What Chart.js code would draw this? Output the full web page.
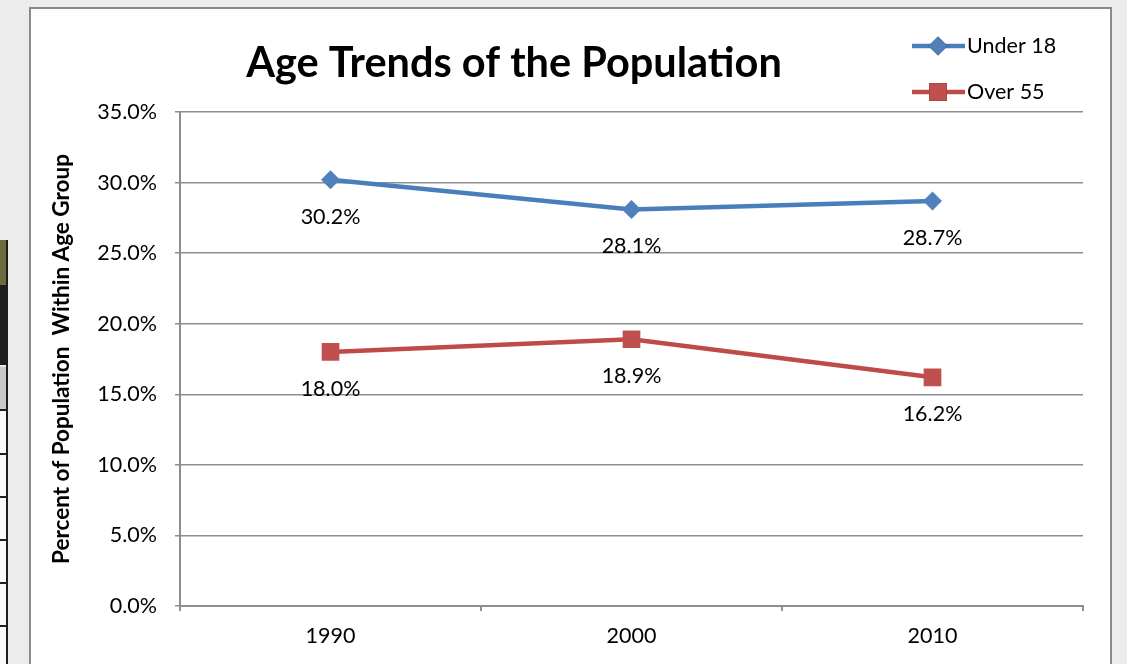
<!DOCTYPE html>
<html><head><meta charset="utf-8">
<script src="https://cdn.jsdelivr.net/npm/chart.js@4.4.0/dist/chart.umd.min.js"></script>
<style>html,body{margin:0;padding:0;background:#ececec;overflow:hidden}
canvas{display:block}
</style></head><body>
<canvas id="c" width="1127" height="664"></canvas>
<script>
const categories = ['1990', '2000', '2010'];
const under18 = [30.2, 28.1, 28.7];
const over55 = [18.0, 18.9, 16.2];
const seriesNames = ['Under 18', 'Over 55'];
const yMin = 0, yMax = 35, yStep = 5;
const chartTitle = 'Age Trends of the Population';
const yTitle = 'Percent of Population  Within Age Group';

const FONT = 'Lato, "Open Sans", sans-serif';
const BLUE = '#4a7ebb', BLUE_M = '#4f81bd';
const RED = '#be4b48', RED_M = '#c0504d';
const GRID = '#8e8e8e';
const FS = 21.5;

const pagePlugin = {
  id: 'page',
  beforeDraw(chart) {
    const ctx = chart.ctx;
    ctx.save();
    ctx.fillStyle = '#ececec';
    ctx.fillRect(0, 0, 1127, 664);
    // left decorative strip
    ctx.fillStyle = '#6d6a3c'; ctx.fillRect(0, 240, 7, 45);
    ctx.fillStyle = '#211e1e'; ctx.fillRect(0, 285, 7, 80);
    ctx.fillStyle = '#c9c9cd'; ctx.fillRect(0, 367, 7, 42);
    ctx.fillStyle = '#fafafa'; ctx.fillRect(0, 410, 7, 254);
    ctx.fillStyle = '#1e1e1e'; ctx.fillRect(6, 240, 2, 424);
    ctx.fillStyle = '#1e1e1e';
    [409, 453, 496, 539, 582, 625].forEach(y => ctx.fillRect(0, y, 7, 2));
    // panel
    ctx.fillStyle = '#ffffff';
    ctx.fillRect(30, 8, 1081, 670);
    ctx.strokeStyle = '#8a8a8a';
    ctx.lineWidth = 2;
    ctx.strokeRect(30, 8, 1081, 670);
    ctx.restore();
  },
  afterDatasetsDraw(chart) {
    const ctx = chart.ctx;
    ctx.save();
    // data labels
    ctx.fillStyle = '#000';
    ctx.font = FS + 'px ' + FONT;
    ctx.textAlign = 'center';
    ctx.textBaseline = 'middle';
    chart.data.datasets.forEach((ds, di) => {
      const meta = chart.getDatasetMeta(di);
      meta.data.forEach((pt, i) => {
        ctx.fillText(ds.data[i].toFixed(1) + '%', pt.x, pt.y + 37);
      });
    });
    // title
    ctx.font = 'bold 41.5px ' + FONT;
    ctx.fillText(chartTitle, 514, 64);
    // legend
    ctx.textAlign = 'left';
    ctx.font = FS + 'px ' + FONT;
    chart.data.datasets.forEach((ds, di) => {
      const y = 46 + di * 46;
      ctx.strokeStyle = ds.borderColor;
      ctx.lineWidth = 4.5;
      ctx.beginPath(); ctx.moveTo(912, y); ctx.lineTo(965, y); ctx.stroke();
      Chart.helpers.drawPoint(ctx, {pointStyle: ds.pointStyle, radius: ds.pointRadius, borderWidth: 0}, 938, y);
      ctx.fillStyle = ds.pointBackgroundColor;
      ctx.fill();
      ctx.fillStyle = '#000';
      ctx.fillText(ds.label, 967, y);
    });
    ctx.restore();
  }
};

new Chart(document.getElementById('c'), {
  type: 'line',
  data: {
    labels: categories,
    datasets: [
      {label: seriesNames[0], data: under18, borderColor: BLUE, backgroundColor: BLUE_M,
       pointBackgroundColor: BLUE_M, pointBorderColor: BLUE_M, pointStyle: 'rectRot',
       pointRadius: 9.5, pointBorderWidth: 0, borderWidth: 4.5, tension: 0},
      {label: seriesNames[1], data: over55, borderColor: RED, backgroundColor: RED_M,
       pointBackgroundColor: RED_M, pointBorderColor: RED_M, pointStyle: 'rect',
       pointRadius: 12.5, pointBorderWidth: 0, borderWidth: 4.5, tension: 0}
    ]
  },
  options: {
    responsive: false,
    animation: false,
    layout: {padding: {top: 112, right: 44, bottom: 0, left: 0}},
    plugins: {legend: {display: false}, title: {display: false}, tooltip: {enabled: false}},
    scales: {
      x: {
        offset: true,
        grid: {offset: true, drawOnChartArea: false, drawTicks: true, tickLength: 5, color: GRID, lineWidth: 2},
        border: {color: GRID, width: 2},
        ticks: {color: '#000', font: {family: FONT, size: FS}, padding: 12, maxRotation: 0},
        afterFit(s) { s.height = 58; }
      },
      y: {
        min: yMin, max: yMax,
        grid: {color: GRID, lineWidth: 1.5, tickLength: 5, drawTicks: true},
        border: {color: GRID, width: 2},
        ticks: {stepSize: yStep, color: '#000', font: {family: FONT, size: FS}, padding: 18,
                callback: v => v.toFixed(1) + '%'},
        title: {display: true, text: yTitle, color: '#000', font: {family: FONT, size: 22.5, weight: 'bold'},
                padding: {top: 48, bottom: 0}},
        afterFit(s) { s.width = 180; }
      }
    }
  },
  plugins: [pagePlugin]
});
</script>
</body></html>
